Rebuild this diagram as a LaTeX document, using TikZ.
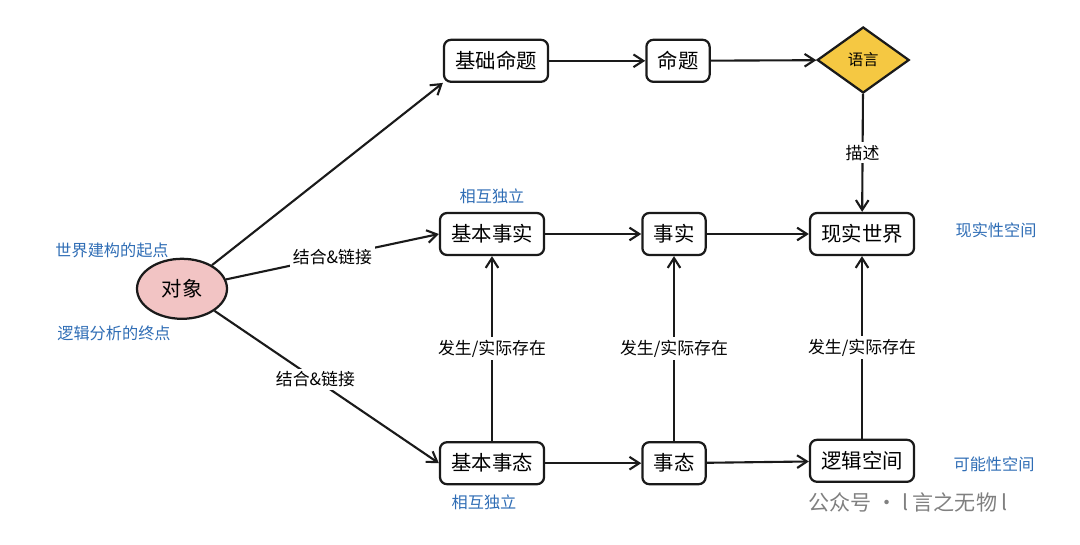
\documentclass[tikz,border=0pt]{standalone}
\usepackage{fontspec}
\setmainfont{Noto Sans CJK SC}
\usepackage{tikz}
\usetikzlibrary{shapes.geometric, arrows.meta, positioning}
\definecolor{ink}{HTML}{1A1A1A}
\definecolor{note}{HTML}{2F6DB5}
\definecolor{lang}{HTML}{F5C842}
\definecolor{obj}{HTML}{F2C4C4}
\tikzset{
  box/.style={rectangle, rounded corners=5pt, draw=ink, line width=1.6pt,
              fill=white, minimum height=1.05cm, inner xsep=8pt,
              font=\fontsize{14.5}{16}\selectfont},
  langD/.style={diamond, draw=ink, line width=1.6pt, fill=lang, aspect=1.4,
                minimum width=2.3cm, minimum height=1.65cm,
                font=\fontsize{11}{13}\selectfont},
  objE/.style={ellipse, draw=ink, line width=1.6pt, fill=obj,
               minimum width=2.25cm, minimum height=1.5cm,
               font=\fontsize{14.5}{16}\selectfont},
  arrow/.style={-{Straight Barb[length=7pt,width=9pt]}, line width=1.5pt, draw=ink},
  lab/.style={fill=white, inner sep=2pt, font=\fontsize{12}{14}\selectfont},
  notes/.style={text=note, font=\fontsize{11.5}{13}\selectfont},
}
\begin{document}
\begin{tikzpicture}
  \useasboundingbox (0,0) rectangle (27,-13.6);

  %% Nodes
  \node[box]   (basP)  at (12.40,-1.52) {基础命题};
  \node[box]   (prop)  at (16.95,-1.52) {命题};
  \node[langD] (lang)  at (21.58,-1.50) {语言};
  \node[box]   (world) at (21.55,-5.85) {现实世界};
  \node[box]   (basF)  at (12.30,-5.85) {基本事实};
  \node[box]   (fact)  at (16.85,-5.85) {事实};
  \node[objE]  (obj)   at (4.55,-7.22)  {对象};
  \node[box]   (basS)  at (12.30,-11.58) {基本事态};
  \node[box]   (state) at (16.85,-11.58) {事态};
  \node[box]   (space) at (21.55,-11.52) {逻辑空间};

  %% Connectors
  \draw[arrow] (obj) -- (basP.south west);
  \draw[arrow] (obj) -- node[lab]{结合\&链接} (basF.west);
  \draw[arrow] (obj) -- node[lab, pos=0.45]{结合\&链接} (basS.west);
  \draw[arrow] (basP) -- (prop);
  \draw[arrow] (prop) -- (lang);
  \draw[arrow] (lang) -- node[lab]{描述} (world);
  \draw[arrow] (basF) -- (fact);
  \draw[arrow] (fact) -- (world);
  \draw[arrow] (basS) -- (state);
  \draw[arrow] (state) -- (space);
  \draw[arrow] (basS) -- node[lab]{发生/实际存在} (basF);
  \draw[arrow] (state) -- node[lab]{发生/实际存在} (fact);
  \draw[arrow] (space) -- node[lab]{发生/实际存在} (world);

  %% Notes
  \node[notes] (indepF) at (12.30,-4.90) {相互独立};
  \node[notes] (indepS) at (12.10,-12.55) {相互独立};
  \node[notes] (real)   at (24.90,-5.75) {现实性空间};
  \node[notes] (poss)   at (24.85,-11.62) {可能性空间};
  \node[notes] (start)  at (2.80,-6.25) {世界建构的起点};
  \node[notes] (end)    at (2.85,-8.33) {逻辑分析的终点};
  \node[text=gray, font=\fontsize{15}{17}\selectfont] (mark) at (22.7,-12.55) {公众号 · l 言之无物 l};
\end{tikzpicture}
\end{document}
